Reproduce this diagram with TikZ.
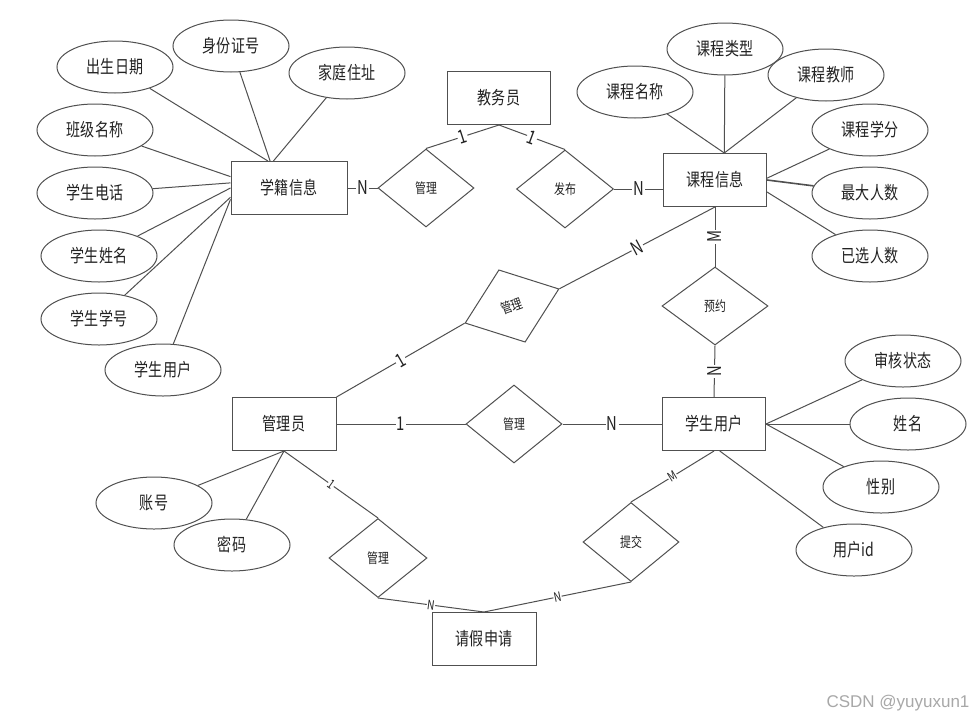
\documentclass[tikz,border=0pt]{standalone}
\usepackage{fontspec}
\usetikzlibrary{positioning,shapes.geometric}
\newfontfamily\erfont{Noto Sans CJK SC}[FakeStretch=0.78]
\newfontfamily\wmfont{Liberation Sans}
\definecolor{Ink}{HTML}{222222}
\definecolor{Edge}{HTML}{505050}
\definecolor{Mark}{HTML}{A8A8A8}
\tikzset{
  entbox/.style={draw=Edge,line width=1pt,fill=white,minimum width=104pt,minimum height=53pt,inner sep=0pt,font=\erfont\fontsize{18}{20}\selectfont,text=Ink},
  attr/.style={draw=Edge,line width=1pt,fill=white,ellipse,minimum width=116pt,minimum height=52pt,inner sep=0pt,font=\erfont\fontsize{18}{20}\selectfont,text=Ink},
  rel/.style={draw=Edge,line width=1pt,fill=white,diamond,minimum width=96pt,minimum height=78pt,inner sep=0pt,font=\erfont\fontsize{14}{16}\selectfont,text=Ink},
  conn/.style={draw=Edge,line width=1pt},
  lbl/.style={fill=white,inner sep=1pt,font=\erfont\fontsize{19}{20}\selectfont,text=Ink},
  slbl/.style={fill=white,inner sep=0.5pt,font=\erfont\fontsize{13}{14}\selectfont,text=Ink}
}

\begin{document}
\begin{tikzpicture}[x=1pt,y=-1pt]
  \fill[white] (0,0) rectangle (976,720);
  \useasboundingbox (0,0) rectangle (976,720);
  \node[entbox,minimum width=116pt] (xj) at (289,188) {学籍信息};
  \node[entbox,minimum width=103pt] (jwy) at (499,98) {教务员};
  \node[entbox,minimum width=103pt] (kc) at (715,180) {课程信息};
  \node[entbox] (gly) at (284,424) {管理员};
  \node[entbox,minimum width=103pt] (xs) at (714,424) {学生用户};
  \node[entbox] (qj) at (484,639) {请假申请};
  \node[attr] (csrq) at (115,67) {出生日期};
  \node[attr] (sfzh) at (231,46) {身份证号};
  \node[attr] (jtzz) at (347,73) {家庭住址};
  \node[attr] (bjmc) at (95,130) {班级名称};
  \node[attr] (xsdh) at (95,193) {学生电话};
  \node[attr] (xsxm) at (99,256) {学生姓名};
  \node[attr] (xsxh) at (99,319) {学生学号};
  \node[attr] (xsyh) at (163,370) {学生用户};
  \node[attr] (kcmc) at (635,92) {课程名称};
  \node[attr] (kclx) at (725,49) {课程类型};
  \node[attr] (kcjs) at (826,75) {课程教师};
  \node[attr] (kcxf) at (870,130) {课程学分};
  \node[attr] (zdrs) at (870,193) {最大人数};
  \node[attr] (yxrs) at (870,256) {已选人数};
  \node[attr] (shzt) at (903,361) {审核状态};
  \node[attr] (xm) at (908,424) {姓名};
  \node[attr] (xb) at (881,487) {性别};
  \node[attr] (yhid) at (854,550) {用户id};
  \node[attr] (zh) at (154,503) {账号};
  \node[attr] (mm) at (232,545) {密码};
  \node[rel] (glxj) at (426,188) {管理};
  \node[rel,minimum width=97pt] (fb) at (565,189) {发布};
  \node[rel,minimum width=100pt,minimum height=77pt,rotate=20] (glkc) at (512,306) {管理};
  \node[rel,minimum width=106pt] (yy) at (715,306) {预约};
  \node[rel] (glxs) at (514,424) {管理};
  \node[rel,minimum width=98pt,minimum height=79pt] (glqj) at (378,558) {管理};
  \node[rel,minimum height=79pt] (tj) at (631,542) {提交};
  \node[anchor=east,text=Mark,font=\wmfont\fontsize{17}{19}\selectfont] (wm) at (973,703) {CSDN @yuyuxun1};

  \draw[conn] (csrq) -- (xj.128);
  \draw[conn] (sfzh) -- (xj.125);
  \draw[conn] (jtzz) -- (xj.120);
  \draw[conn] (bjmc) -- (xj.169);
  \draw[conn] (xsdh) -- (xj.175);
  \draw[conn] (xsxm) -- (xj.180);
  \draw[conn] (xsxh) -- (xj.189);
  \draw[conn] (xsyh) -- (xj.191);
  \draw[conn] (kcmc) -- (kc.71);
  \draw[conn] (kclx) -- (kc.71);
  \draw[conn] (kcjs) -- (kc.71);
  \draw[conn] (kcxf) -- (kc.2);
  \draw[conn,line width=1.6pt] (zdrs) -- (kc.east);
  \draw[conn] (yxrs) -- (kc.-13);
  \draw[conn] (shzt) -- (xs.east);
  \draw[conn] (xm) -- (xs.east);
  \draw[conn] (xb) -- (xs.east);
  \draw[conn] (yhid) -- (xs.-78);
  \draw[conn] (zh) -- (gly.south);
  \draw[conn] (mm) -- (gly.south);

  \draw[conn] (xj.east) -- node[lbl] {N} (glxj.west);
  \draw[conn] (glxj.north) -- node[lbl,sloped] {1} (jwy.south);
  \draw[conn] (fb.north) -- node[lbl,sloped] {1} (jwy.south);
  \draw[conn] (fb.east) -- node[lbl] {N} (fb.east -| kc.west);
  \draw[conn] (kc.south) -- node[lbl,sloped] {N} (glkc.east);
  \draw[conn] (gly.north east) -- node[lbl,sloped] {1} (glkc.west);
  \draw[conn] (kc.south) -- node[lbl,rotate=90] {M} (yy.north);
  \draw[conn] (yy.south) -- node[lbl,rotate=90] {N} (xs.north);
  \draw[conn] (gly.east) -- node[lbl] {1} (glxs.west);
  \draw[conn] (glxs.east) -- node[lbl] {N} (xs.west);
  \draw[conn] (gly.south) -- node[slbl,sloped] {1} (glqj.north);
  \draw[conn] (glqj.south) -- node[slbl,sloped] {N} (qj.north);
  \draw[conn] (xs.south) -- node[slbl,sloped] {M} (tj.north);
  \draw[conn] (tj.south) -- node[slbl,sloped] {N} (qj.north);
\end{tikzpicture}
\end{document}
